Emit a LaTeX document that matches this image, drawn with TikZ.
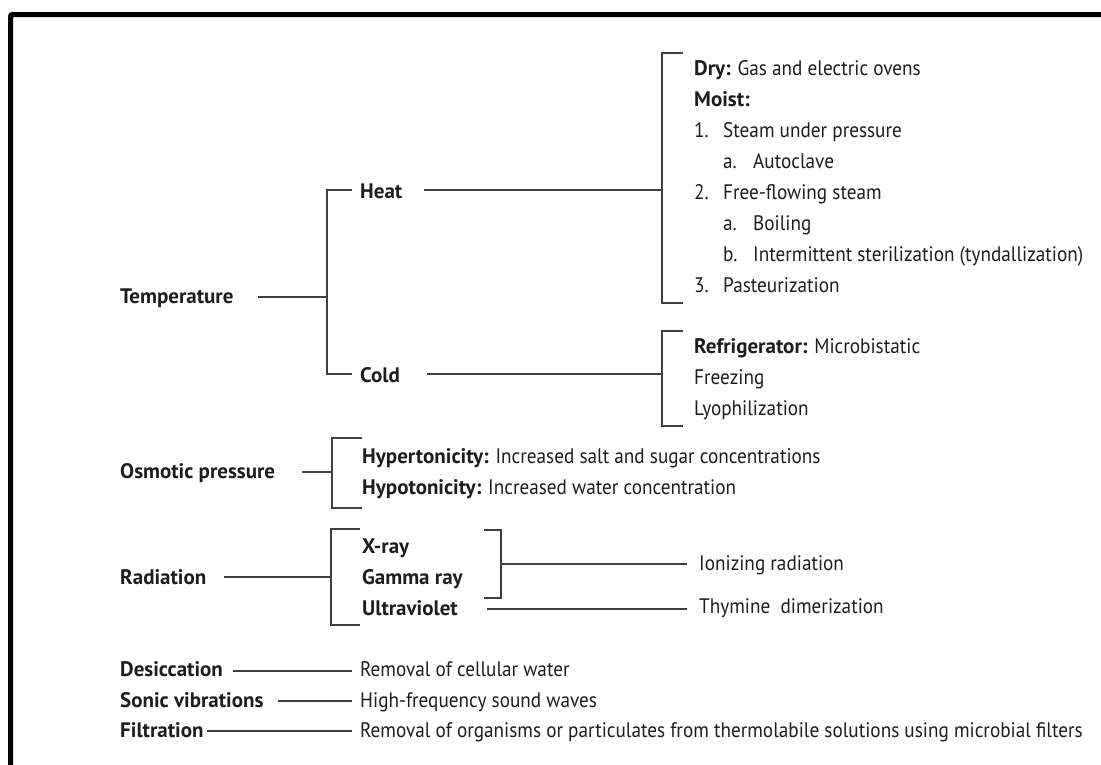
\documentclass[tikz,border=0pt]{standalone}
\usepackage{fontspec}
\setmainfont{PT Sans}
% narrower cut of the same family for the plain (non-bold) text
\newfontfamily\rgfont{PT Sans}[FakeStretch=0.915]
\definecolor{linecol}{RGB}{64,64,64}
\definecolor{txtcol}{RGB}{30,28,30}
\newcommand{\txtsize}{\fontsize{21}{25}\selectfont}
\newcommand{\kw}[1]{{\normalfont\txtsize\bfseries #1}}
\tikzset{
  lbl/.style={anchor=base west, inner sep=0pt, text=txtcol, font=\txtsize\rgfont},
  hd/.style={lbl, font=\txtsize\bfseries},
  link/.style={draw=linecol, line width=1.3pt},
}
\begin{document}
\begin{tikzpicture}[x=1pt, y=-1pt]
\useasboundingbox (0,0) rectangle (1101,764);
\begin{scope}
  \clip (0,0) rectangle (1101,764);
  \draw[line width=5pt, rounded corners=2pt] (10.5,14.5) rectangle (1120,790);
\end{scope}

% ---- Temperature branch ----
\node[hd] (temp) at (120,303) {Temperature};
\node[hd] (heat) at (360,198) {Heat};
\node[hd] (cold) at (360,382) {Cold};

\coordinate (tempR) at (258,297);
\coordinate (tJoin) at (327,297);
\coordinate (tTop) at (352,190);
\coordinate (tBot) at (352,374);
\draw[link] (tempR) -- (tJoin);
\draw[link] (tTop) -| (tBot -| tJoin) -- (tBot);

% heat methods
\node[lbl] (dry) at (694,75) {\kw{Dry:} Gas and electric ovens};
\node[hd] (moist) at (694,106) {Moist:};
\node[lbl] (n1) at (694,137) {1.};
\node[lbl] (m1) at (723,137) {Steam under pressure};
\node[lbl] (n1a) at (723,168) {a.};
\node[lbl] (m1a) at (753,168) {Autoclave};
\node[lbl] (n2) at (694,199) {2.};
\node[lbl] (m2) at (723,199) {Free-flowing steam};
\node[lbl] (n2a) at (723,230) {a.};
\node[lbl] (m2a) at (753,230) {Boiling};
\node[lbl] (n2b) at (723,261) {b.};
\node[lbl] (m2b) at (753,261) {Intermittent sterilization (tyndallization)};
\node[lbl] (n3) at (694,292) {3.};
\node[lbl] (m3) at (723,292) {Pasteurization};

\coordinate (heatR) at (424,190);
\coordinate (hJoin) at (662,190);
\coordinate (hTop) at (683,53);
\coordinate (hBot) at (683,303);
\draw[link] (heatR) -- (hJoin);
\draw[link] (hTop) -| (hBot -| hJoin) -- (hBot);

% cold methods
\node[lbl] (fridge) at (694,353) {\kw{Refrigerator:} Microbistatic};
\node[lbl] (freeze) at (694,384) {Freezing};
\node[lbl] (lyo) at (694,415) {Lyophilization};

\coordinate (coldR) at (427,374);
\coordinate (cJoin) at (662,374);
\coordinate (cTop) at (683,331);
\coordinate (cBot) at (683,426);
\draw[link] (coldR) -- (cJoin);
\draw[link] (cTop) -| (cBot -| cJoin) -- (cBot);

% ---- Osmotic pressure ----
\node[hd] (osm) at (120,478) {Osmotic pressure};
\node[lbl] (hyper) at (362,463) {\kw{Hypertonicity:} Increased salt and sugar concentrations};
\node[lbl] (hypo) at (362,494) {\kw{Hypotonicity:} Increased water concentration};

\coordinate (osmR) at (302,472);
\coordinate (oJoin) at (332,472);
\coordinate (oTop) at (362,438);
\coordinate (oBot) at (362,508);
\draw[link] (osmR) -- (oJoin);
\draw[link] (oTop) -| (oBot -| oJoin) -- (oBot);

% ---- Radiation ----
\node[hd] (rad) at (120,584) {Radiation};
\node[hd] (xray) at (362,553) {X-ray};
\node[hd] (gamma) at (362,584) {Gamma ray};
\node[hd] (uv) at (362,615) {Ultraviolet};
\node[lbl] (ion) at (699,570) {Ionizing radiation};
\node[lbl] (thy) at (699,613) {Thymine\ \ dimerization};

\coordinate (radR) at (224,577);
\coordinate (rJoin) at (331,577);
\coordinate (rTop) at (360,529);
\coordinate (rBot) at (360,625);
\draw[link] (radR) -- (rJoin);
\draw[link] (rTop) -| (rBot -| rJoin) -- (rBot);

\coordinate (xgTop) at (484,530);
\coordinate (xgBot) at (484,598);
\coordinate (xgJoin) at (501,564);
\coordinate (ionL) at (687,564);
\draw[link] (xgTop) -| (xgBot -| xgJoin) -- (xgBot);
\draw[link] (xgJoin) -- (ionL);

\coordinate (uvR) at (487,609);
\coordinate (thyL) at (687,609);
\draw[link] (uvR) -- (thyL);

% ---- Other methods ----
\node[hd] (des) at (120,676) {Desiccation};
\node[hd] (son) at (120,707) {Sonic vibrations};
\node[hd] (fil) at (120,737) {Filtration};
\node[lbl] (desT) at (360,676) {Removal of cellular water};
\node[lbl] (sonT) at (360,707) {High-frequency sound waves};
\node[lbl] (filT) at (360,737) {Removal of organisms or particulates from thermolabile solutions using microbial filters};

\coordinate (desR) at (233,671);
\coordinate (desL) at (352,671);
\coordinate (sonR) at (278,701);
\coordinate (sonL) at (352,701);
\coordinate (filR) at (207,731);
\coordinate (filL) at (352,731);
\draw[link] (desR) -- (desL);
\draw[link] (sonR) -- (sonL);
\draw[link] (filR) -- (filL);
\end{tikzpicture}
\end{document}
